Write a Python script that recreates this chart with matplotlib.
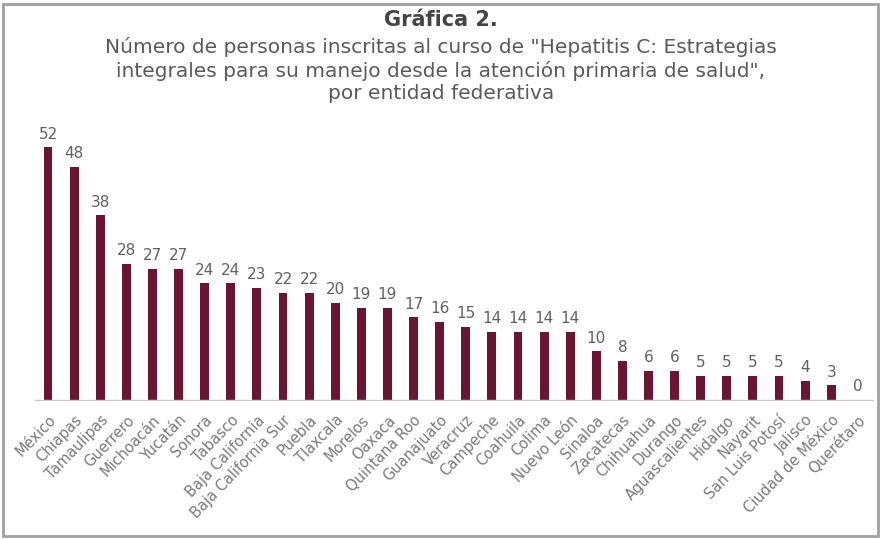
import matplotlib
matplotlib.use("Agg")
import matplotlib.pyplot as plt
from matplotlib.patches import Rectangle


estados = [
    "México", "Chiapas", "Tamaulipas", "Guerrero", "Michoacán", "Yucatán",
    "Sonora", "Tabasco", "Baja California", "Baja California Sur", "Puebla",
    "Tlaxcala", "Morelos", "Oaxaca", "Quintana Roo", "Guanajuato", "Veracruz",
    "Campeche", "Coahuila", "Colima", "Nuevo León", "Sinaloa", "Zacatecas",
    "Chihuahua", "Durango", "Aguascalientes", "Hidalgo", "Nayarit",
    "San Luis Potosí", "Jalisco", "Ciudad de México", "Querétaro",
]
inscritos = [52, 48, 38, 28, 27, 27, 24, 24, 23, 22, 22, 20, 19, 19, 17, 16,
             15, 14, 14, 14, 14, 10, 8, 6, 6, 5, 5, 5, 5, 4, 3, 0]

plt.rcParams["font.family"] = ["DejaVu Sans"]
gris = "#5a5a5a"

fig = plt.figure(figsize=(8.82, 5.39), dpi=100)
ax = fig.add_axes([35 / 882, 139 / 539, 838 / 882, 272 / 539])

x = range(len(estados))
bars = ax.bar(x, inscritos, width=0.34, color="#6a1532")

for i, v in enumerate(inscritos):
    ax.text(i, v + 1.2, str(v), ha="center", va="bottom", fontsize=11, color="#606060")

ax.set_xlim(-0.5, len(estados) - 0.4)
ax.set_ylim(0, 56)
ax.set_yticks([])
ax.set_xticks(list(x))
ax.set_xticklabels(estados, rotation=46, ha="right", rotation_mode="anchor",
                   fontsize=10.5, color="#7a7a7a")
ax.tick_params(axis="x", length=0, pad=9)
for side in ("top", "right", "left"):
    ax.spines[side].set_visible(False)
ax.spines["bottom"].set_color("#c8c8c8")
ax.spines["bottom"].set_linewidth(1)

fig.text(0.5, 1 - 20 / 539, "Gráfica 2.", ha="center", va="center",
         fontsize=15, fontweight="bold", color="#444444")
subtitulo = ('Número de personas inscritas al curso de "Hepatitis C: Estrategias\n'
             'integrales para su manejo desde la atención primaria de salud",\n'
             'por entidad federativa')
fig.text(0.5, 1 - 70 / 539, subtitulo, ha="center", va="center",
         fontsize=14.5, color=gris, linespacing=1.25)

fig.patches.append(Rectangle((3 / 882, 3 / 539), 875 / 882, 532 / 539,
                             transform=fig.transFigure, fill=False,
                             edgecolor="#a0a0a0", linewidth=2))

fig.savefig("out.png", dpi=100)
